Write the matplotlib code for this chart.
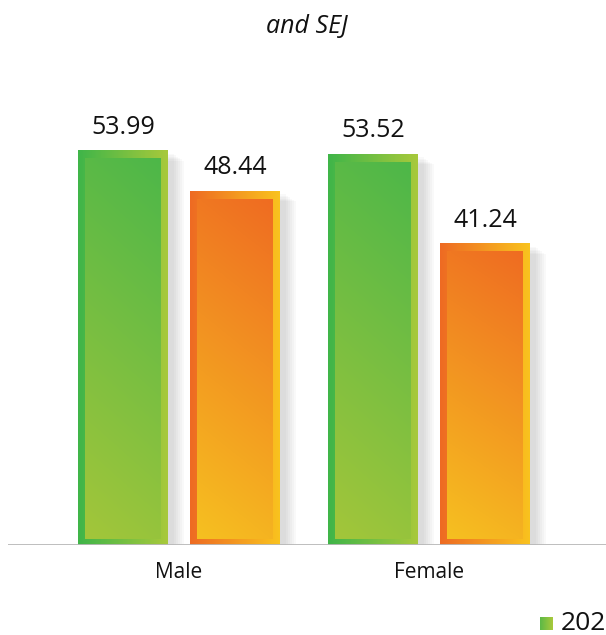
import numpy as np
import matplotlib.pyplot as plt
from matplotlib.colors import LinearSegmentedColormap
from matplotlib.patches import Rectangle

plt.rcParams['font.family'] = ['Open Sans', 'DejaVu Sans']

categories = ["Male", "Female"]
series_a = [53.99, 53.52]   # green
series_b = [48.44, 41.24]   # orange
legend_label = "202"        # cut off at the right edge in the source
title_line = "and SEJ"

green_outer = LinearSegmentedColormap.from_list("go", ["#3fb549", "#a8c93b"])
green_inner = LinearSegmentedColormap.from_list("gi", ["#4db749", "#a3c63a"])
orange_outer = LinearSegmentedColormap.from_list("oo", ["#ee6a23", "#f9c31e"])
orange_inner = LinearSegmentedColormap.from_list("oi", ["#ef6c22", "#f6c020"])

W, H = 606, 635
fig = plt.figure(figsize=(W / 100, H / 100), dpi=100)
base_px = 545
top_px = 60
ax = fig.add_axes([8 / W, (H - base_px) / H, (W - 8) / W, (base_px - top_px) / H])
ymax = (base_px - top_px) / 7.3
ax.set_xlim(-0.684, 1.708)
ax.set_ylim(0, ymax)
ax.axis("off")

off = 0.224
bw = 0.36
px_x = 1 / 250.0
px_y = 1 / 7.3


def grad_bar(x0, h, outer, inner):
    x1 = x0 + bw
    # soft shadow
    for k in range(6):
        ax.add_patch(Rectangle((x0 + 4 * px_x, -(3 + 2 * k) * px_y), bw + (2 + 2 * k) * px_x,
                               h + 2 * k * px_y * 0.3, color="#555555", alpha=0.035, lw=0,
                               zorder=1))
    hg = np.linspace(0, 1, 128).reshape(1, -1)
    ax.imshow(hg, cmap=outer, extent=(x0, x1, 0, h), aspect="auto", zorder=2,
              interpolation="bicubic")
    yy, xx = np.mgrid[0:1:128j, 0:1:64j]
    g = np.clip(yy * 0.85 + (1 - xx) * 0.15, 0, 1)
    ax.imshow(g, cmap=inner, origin="upper",
              extent=(x0 + 7 * px_x, x1 - 7 * px_x, 6 * px_y, h - 8 * px_y),
              aspect="auto", zorder=3, interpolation="bicubic")


for i, cat in enumerate(categories):
    xa = i - off - bw / 2
    xb = i + off - bw / 2
    grad_bar(xa, series_a[i], green_outer, green_inner)
    grad_bar(xb, series_b[i], orange_outer, orange_inner)
    ax.text(i - off, series_a[i] + 11 * px_y, f"{series_a[i]:.2f}", ha="center", va="bottom",
            fontsize=18, color="#111111", zorder=5)
    ax.text(i + off, series_b[i] + 11 * px_y, f"{series_b[i]:.2f}", ha="center", va="bottom",
            fontsize=18, color="#111111", zorder=5)
    ax.text(i, -28 * px_y, cat, ha="center", va="center", fontsize=15, color="#111111")

ax.set_xlim(-0.684, 1.708)
ax.set_ylim(0, ymax)
ax.axhline(0, color="#b8b8b8", lw=2, zorder=4)

fig.text(307 / W, 1 - 26 / H, title_line, ha="center", va="center", fontsize=18,
         style="italic", color="#111111")

lax = fig.add_axes([540 / W, 1 - 630 / H, 13 / W, 13 / H])
lax.imshow(np.linspace(0, 1, 32).reshape(1, -1), cmap=LinearSegmentedColormap.from_list(
    "lg", ["#5db947", "#a8c93b"]), aspect="auto")
lax.axis("off")
fig.text(561 / W, 1 - 623 / H, legend_label, ha="left", va="center", fontsize=19, color="#111111")

fig.savefig("out.png", dpi=100)
